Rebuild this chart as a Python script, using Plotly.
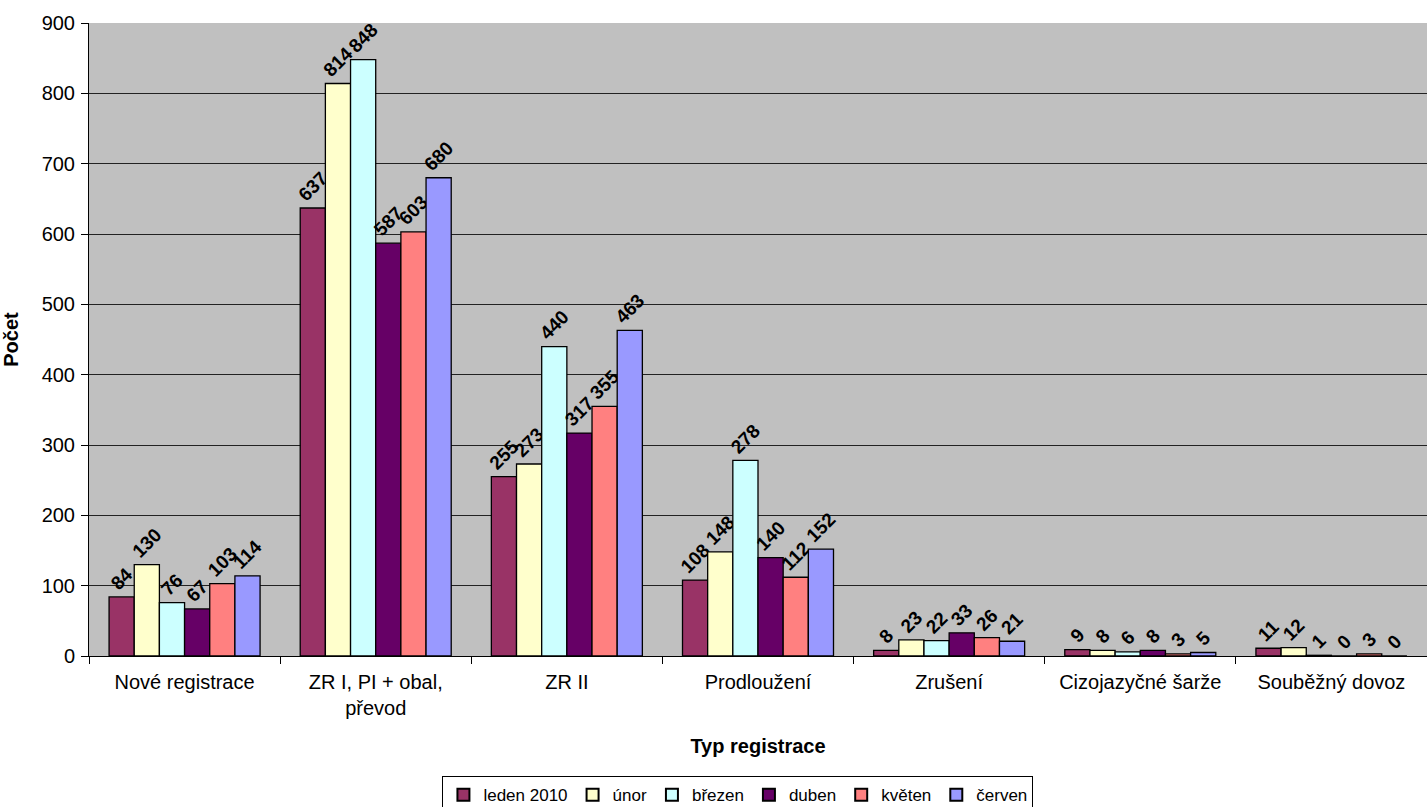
import plotly.graph_objects as go

categories = ["Nové registrace", "ZR I, PI + obal,<br>převod", "ZR II", "Prodloužení",
              "Zrušení", "Cizojazyčné šarže", "Souběžný dovoz"]
series_names = ["leden 2010", "únor", "březen", "duben", "květen", "červen"]
leden = [84, 637, 255, 108, 8, 9, 11]
unor = [130, 814, 273, 148, 23, 8, 12]
brezen = [76, 848, 440, 278, 22, 6, 1]
duben = [67, 587, 317, 140, 33, 8, 0]
kveten = [103, 603, 355, 112, 26, 3, 3]
cerven = [114, 680, 463, 152, 21, 5, 0]
values = [leden, unor, brezen, duben, kveten, cerven]
colors = ["#993366", "#FFFFCC", "#CCFFFF", "#660066", "#FF8080", "#9999FF"]

FONT = "Liberation Sans, Arial, sans-serif"

fig = go.Figure()
for name, vals, col in zip(series_names, values, colors):
    fig.add_trace(go.Bar(
        name=name, x=categories, y=vals,
        marker=dict(color=col, line=dict(color="black", width=1.3)),
        text=[str(v) for v in vals], textposition="outside", textangle=-45,
        constraintext="none",
        textfont=dict(family=FONT, size=19, color="black", weight="bold"),
        cliponaxis=False,
    ))

fig.update_layout(
    width=1427, height=807,
    margin=dict(l=89, r=0, t=23, b=151, autoexpand=False),
    paper_bgcolor="white", plot_bgcolor="#C0C0C0",
    barmode="group", bargap=0.21, bargroupgap=0,
    font=dict(family=FONT, size=20, color="black"),
    showlegend=True,
    legend=dict(orientation="h", x=0.485, xanchor="center", y=-0.19, yanchor="top",
                bordercolor="black", borderwidth=1, font=dict(size=17),
                traceorder="normal", itemwidth=30, tracegroupgap=0,
                itemsizing="constant"),
    xaxis=dict(title=dict(text="<b>Typ registrace</b>", standoff=20, font=dict(size=20)),
               automargin=False,
               tickson="boundaries", ticks="outside", ticklen=7, tickcolor="black",
               ticklabelstandoff=8,
               showline=True, linecolor="black", linewidth=1, showgrid=False,
               tickfont=dict(size=20)),
    yaxis=dict(title=dict(text="<b>Počet</b>", standoff=18, font=dict(size=20)),
               automargin=False,
               range=[0, 900], dtick=100, ticks="outside", ticklen=7, tickcolor="black",
               ticklabelstandoff=2,
               showline=True, linecolor="black", linewidth=1,
               showgrid=True, gridcolor="#222222", gridwidth=1, zeroline=False,
               tickfont=dict(size=20)),
)
fig.write_html("out.html")
